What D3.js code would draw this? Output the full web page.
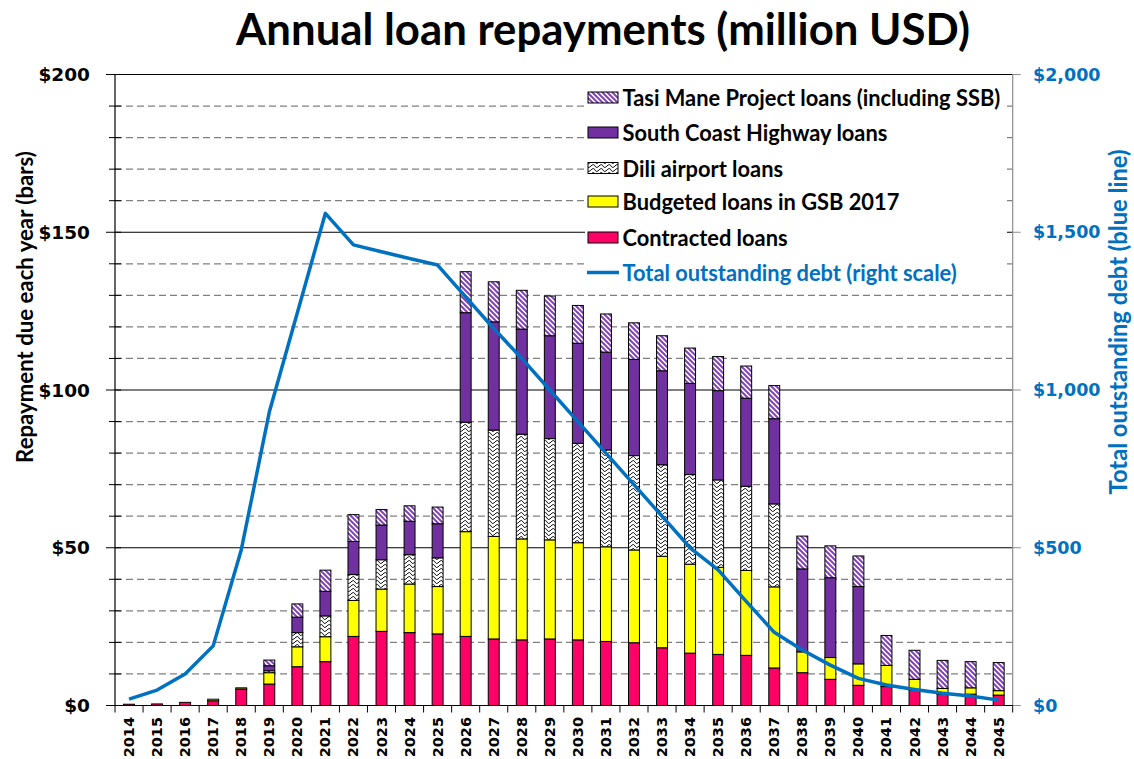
<!DOCTYPE html>
<html>
<head>
<meta charset="utf-8">
<script src="https://cdn.jsdelivr.net/npm/d3@7"></script>
<style>
  html, body { margin: 0; padding: 0; background: #fff; }
  svg { display: block; }
</style>
</head>
<body>
<svg id="chart" width="1134" height="759"></svg>
<script>
// ---------- DATA ----------
const years = ["2014","2015","2016","2017","2018","2019","2020","2021","2022","2023","2024","2025","2026","2027","2028","2029","2030","2031","2032","2033","2034","2035","2036","2037","2038","2039","2040","2041","2042","2043","2044","2045"];
const contracted = [0.4,0.5,1.0,1.5,5.2,6.8,12.3,13.9,21.9,23.5,23.1,22.7,21.9,21.1,20.8,21.1,20.8,20.3,19.9,18.3,16.6,16.2,15.9,11.9,10.4,8.3,6.4,6.0,4.9,3.5,3.6,3.3];
const budgeted   = [0,0,0,0.5,0.4,3.6,6.3,7.9,11.4,13.4,15.4,15.0,33.2,32.5,32.0,31.4,30.8,30.0,29.4,29.0,28.2,27.6,26.9,25.7,6.6,6.9,6.8,6.7,3.4,1.9,2.0,1.4];
const dili       = [0,0,0,0,0,0.6,4.5,6.6,8.2,9.3,9.3,9.1,34.7,33.7,33.2,32.1,31.5,30.7,29.9,29.0,28.4,27.7,26.7,26.3,0,0,0,0,0,0,0,0];
const southCoast = [0,0,0,0,0,1.6,4.9,7.8,10.5,11.0,10.6,10.8,34.7,34.3,33.3,32.6,31.7,31.0,30.5,29.8,28.9,28.3,27.9,27.0,26.3,25.3,24.5,0,0,0,0,0];
const tasiMane   = [0,0,0,0,0,1.8,4.2,6.7,8.5,4.9,4.9,5.3,13.0,12.7,12.3,12.6,12.0,12.1,11.6,11.1,11.2,10.8,10.2,10.5,10.4,10.1,9.7,9.5,9.2,8.9,8.3,8.9];
const totalDebt  = [20,49,100,189,493,930,1245,1560,1460,1438,1417,1396,1295,1195,1100,1000,900,800,700,600,500,430,330,232,176,128,86,65,51,39,30,17];

const seriesNames = ["Contracted loans","Budgeted loans in GSB 2017","Dili airport loans","South Coast Highway loans","Tasi Mane Project loans (including SSB)"];
const seriesKeys = ["contracted","budgeted","dili","southCoast","tasiMane"];
const lineName = "Total outstanding debt (right scale)";
const leftTicks = [0,50,100,150,200];
const rightTicks = [0,500,1000,1500,2000];
const titleText = "Annual loan repayments (million USD)";
const leftTitle = "Repayment due each year (bars)";
const rightTitle = "Total outstanding debt (blue line)";

// ---------- SETUP ----------
const svg = d3.select("#chart");
const L = 115, R = 1012.7, T = 74.5, B = 705.5;
const BLUE = "#0070C0";
const SANS = "Lato, 'Open Sans', sans-serif";
const TICKF = "'DejaVu Sans', Verdana, sans-serif";

const x = d3.scaleBand().domain(years).range([L, R]).paddingInner(0.61).paddingOuter(0.305);
const y = d3.scaleLinear().domain([0, 200]).range([B, T]);
const y2 = d3.scaleLinear().domain([0, 2000]).range([B, T]);

const fills = {
  contracted: "#FF0066",
  budgeted: "#FFFF00",
  dili: "url(#pDili)",
  southCoast: "#7030A0",
  tasiMane: "url(#pTasi)"
};

// patterns
const defs = svg.append("defs");
const pT = defs.append("pattern").attr("id","pTasi").attr("patternUnits","userSpaceOnUse")
  .attr("width",5).attr("height",5);
pT.append("rect").attr("width",5).attr("height",5).attr("fill","#fff");
pT.append("path").attr("d","M-1,-1 L6,6 M-1,4 L1,6 M4,-1 L6,1").attr("stroke","#7F45B8").attr("stroke-width",2);

const pD = defs.append("pattern").attr("id","pDili").attr("patternUnits","userSpaceOnUse")
  .attr("width",8).attr("height",8);
pD.append("rect").attr("width",8).attr("height",8).attr("fill","#fff");
pD.append("path").attr("d","M0,1 Q2,-0.5 3,2 Q4,4.5 6,3 L8,1 M0,5 Q2,3.5 3,6 Q4,8.5 6,7 L8,5")
  .attr("stroke","#000").attr("stroke-width",0.9).attr("fill","none");

// gridlines
const gridVals = d3.range(10, 201, 10);
svg.append("g").selectAll("line").data(gridVals).join("line")
  .attr("x1", L).attr("x2", R)
  .attr("y1", d => y(d)).attr("y2", d => y(d))
  .attr("stroke", d => d % 50 === 0 ? "#000" : "#808080")
  .attr("stroke-width", d => d % 50 === 0 ? 1.1 : 1.2)
  .attr("stroke-dasharray", d => d % 50 === 0 ? null : "7,4");

// stacked bars
const rows = years.map((yr, i) => ({
  year: yr, contracted: contracted[i], budgeted: budgeted[i], dili: dili[i],
  southCoast: southCoast[i], tasiMane: tasiMane[i]
}));
const stack = d3.stack().keys(seriesKeys)(rows);
const gBars = svg.append("g");
stack.forEach(layer => {
  gBars.append("g").selectAll("rect").data(layer.filter(d => d[1] - d[0] > 0)).join("rect")
    .attr("x", d => x(d.data.year))
    .attr("width", x.bandwidth())
    .attr("y", d => y(d[1]))
    .attr("height", d => y(d[0]) - y(d[1]))
    .attr("fill", fills[layer.key])
    .attr("stroke", "#000").attr("stroke-width", 1);
});

// line
const line = d3.line()
  .x((d, i) => x(years[i]) + x.bandwidth() / 2)
  .y(d => y2(d));
svg.append("path").datum(totalDebt).attr("d", line)
  .attr("fill", "none").attr("stroke", BLUE).attr("stroke-width", 3.5)
  .attr("stroke-linejoin", "round");

// left axis
const gl = svg.append("g");
gl.append("line").attr("x1", L).attr("x2", L).attr("y1", T).attr("y2", B).attr("stroke", "#000").attr("stroke-width", 1.2);
gl.selectAll("line.t").data(d3.range(0, 201, 10)).join("line").attr("class","t")
  .attr("x1", d => d % 50 === 0 ? L - 9 : L - 6).attr("x2", L + 6)
  .attr("y1", d => y(d)).attr("y2", d => y(d)).attr("stroke", "#000").attr("stroke-width", 1);
gl.selectAll("text").data(leftTicks).join("text")
  .attr("x", 90).attr("y", d => y(d)).attr("text-anchor", "end").attr("dominant-baseline", "central")
  .attr("font-family", TICKF).attr("font-weight", "bold").attr("font-size", 18.5).attr("fill", "#000")
  .text(d => "$" + d3.format(",")(d));

// right axis
const gr = svg.append("g");
gr.append("line").attr("x1", R).attr("x2", R).attr("y1", T).attr("y2", B).attr("stroke", "#8c8c8c").attr("stroke-width", 1.2);
gr.selectAll("line.t").data(rightTicks).join("line").attr("class","t")
  .attr("x1", R).attr("x2", R + 8)
  .attr("y1", d => y2(d)).attr("y2", d => y2(d)).attr("stroke", "#8c8c8c").attr("stroke-width", 1);
gr.selectAll("text").data(rightTicks).join("text")
  .attr("x", 1033).attr("y", d => y2(d)).attr("text-anchor", "start").attr("dominant-baseline", "central")
  .attr("font-family", TICKF).attr("font-weight", "bold").attr("font-size", 17.5).attr("fill", BLUE)
  .text(d => "$" + d3.format(",")(d));

// x axis
const gx = svg.append("g");
gx.append("line").attr("x1", L).attr("x2", R).attr("y1", B).attr("y2", B).attr("stroke", "#000").attr("stroke-width", 1.2);
const bounds = years.map(yr => x(yr) - x.step() * x.paddingInner() / 2).concat([R]);
gx.selectAll("line.t").data(bounds).join("line").attr("class","t")
  .attr("x1", d => d).attr("x2", d => d).attr("y1", B).attr("y2", B + 7)
  .attr("stroke", "#000").attr("stroke-width", 1);
gx.selectAll("text").data(years).join("text")
  .attr("transform", d => `translate(${x(d) + x.bandwidth() / 2},717) rotate(-90)`)
  .attr("text-anchor", "end").attr("dominant-baseline", "central")
  .attr("font-family", TICKF).attr("font-weight", "bold").attr("font-size", 14.5).attr("fill", "#000")
  .text(d => d);

// helper to fit text width
function fit(sel, target) {
  const w = sel.node().getComputedTextLength();
  const fs = parseFloat(sel.attr("font-size"));
  sel.attr("font-size", fs * target / w);
}

// title
const tt = svg.append("text").attr("x", 603).attr("y", 45).attr("text-anchor", "middle")
  .attr("font-family", SANS).attr("font-weight", "bold").attr("font-size", 40).attr("fill", "#000")
  .text(titleText);
fit(tt, 734);

// axis titles
const lt = svg.append("text").attr("transform", "translate(24,307) rotate(-90)")
  .attr("text-anchor", "middle").attr("dominant-baseline", "central")
  .attr("font-family", SANS).attr("font-weight", "bold").attr("font-size", 22).attr("fill", "#000")
  .text(leftTitle);
fit(lt, 312);
const rt = svg.append("text").attr("transform", "translate(1118,322) rotate(-90)")
  .attr("text-anchor", "middle").attr("dominant-baseline", "central")
  .attr("font-family", SANS).attr("font-weight", "bold").attr("font-size", 22).attr("fill", BLUE)
  .text(rightTitle);
fit(rt, 345);

// legend
const gLeg = svg.append("g");
gLeg.append("rect").attr("x", 585).attr("y", 82).attr("width", 422).attr("height", 204).attr("fill", "#fff");
const legItems = [
  {name: seriesNames[4], key: "tasiMane", cy: 97.5},
  {name: seriesNames[3], key: "southCoast", cy: 132.5},
  {name: seriesNames[2], key: "dili", cy: 168},
  {name: seriesNames[1], key: "budgeted", cy: 201.5},
  {name: seriesNames[0], key: "contracted", cy: 237.5}
];
legItems.forEach(it => {
  gLeg.append("rect").attr("x", 588).attr("y", it.cy - 5.5).attr("width", 30).attr("height", 11)
    .attr("fill", fills[it.key]).attr("stroke", "#000").attr("stroke-width", 1);
});
const legTexts = gLeg.selectAll("text.s").data(legItems).join("text").attr("class","s")
  .attr("x", 622.5).attr("y", d => d.cy).attr("dominant-baseline", "central")
  .attr("font-family", SANS).attr("font-weight", "bold").attr("font-size", 18).attr("fill", "#000")
  .text(d => d.name);
// scale legend font from the longest entry
const w0 = legTexts.nodes()[0].getComputedTextLength();
const legFs = 18 * 378 / w0;
legTexts.attr("font-size", legFs);
gLeg.append("line").attr("x1", 587).attr("x2", 619).attr("y1", 272.5).attr("y2", 272.5)
  .attr("stroke", BLUE).attr("stroke-width", 3.5);
gLeg.append("text").attr("x", 622.5).attr("y", 272.5).attr("dominant-baseline", "central")
  .attr("font-family", SANS).attr("font-weight", "bold").attr("font-size", legFs).attr("fill", BLUE)
  .text(lineName);
</script>
</body>
</html>
